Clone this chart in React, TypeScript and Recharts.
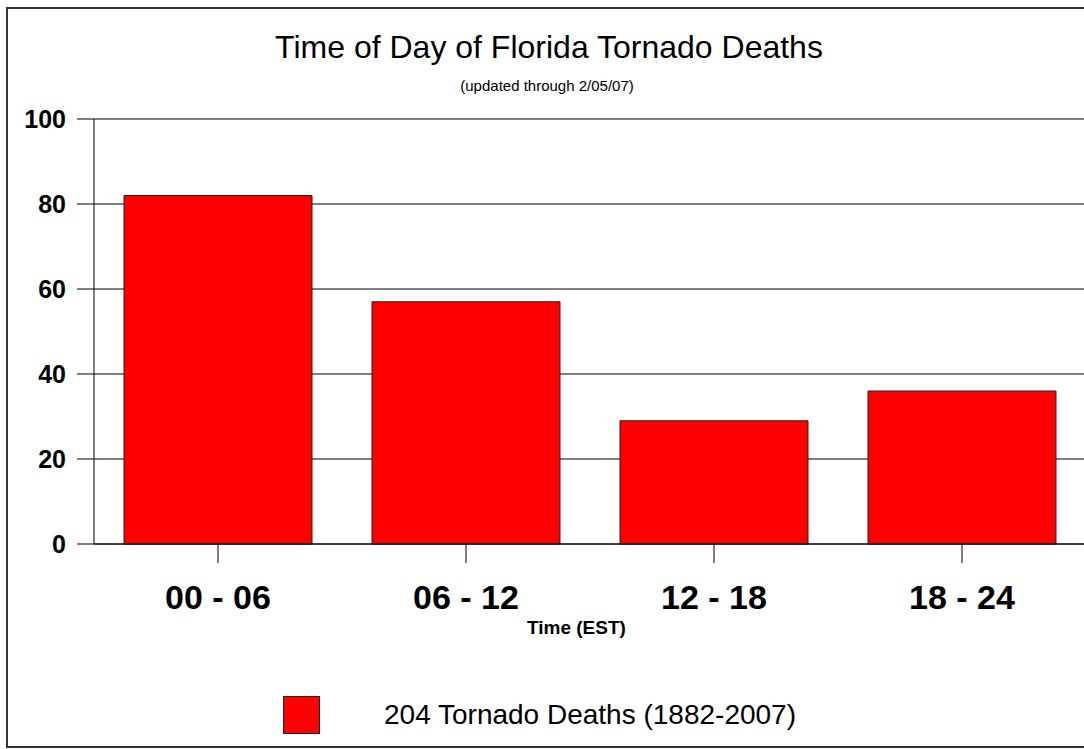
import { BarChart, Bar, XAxis, YAxis, CartesianGrid, Legend } from 'recharts';

const periods = ['00 - 06', '06 - 12', '12 - 18', '18 - 24'];
const deaths = [82, 57, 29, 36];
const yTicks = [0, 20, 40, 60, 80, 100];

const seriesName = '204 Tornado Deaths (1882-2007)';
const chartTitle = 'Time of Day of Florida Tornado Deaths';
const chartSubtitle = '(updated through 2/05/07)';
const xTitle = 'Time (EST)';

const data = periods.map((p, i) => ({ period: p, deaths: deaths[i] }));

const FONT = '"Liberation Sans", Arial, sans-serif';

const LegendBox = () => (
  <div style={{ display: 'flex', alignItems: 'center', fontFamily: FONT }}>
    <div style={{ width: 35, height: 36, background: '#ff0000', border: '1px solid #222' }} />
    <span style={{ marginLeft: 64, fontSize: 28, color: '#000', lineHeight: '38px' }}>{seriesName}</span>
  </div>
);

const App = () => {
  return (
    <div
      style={{
        position: 'fixed',
        left: 0,
        top: 0,
        width: 1084,
        height: 749,
        overflow: 'hidden',
        background: '#fff',
      }}
    >
      <div
        style={{
          position: 'absolute',
          left: 6,
          top: 7,
          width: 1200,
          height: 737,
          border: '2px solid #333',
        }}
      />
      <div style={{ position: 'absolute', left: 0, top: 0 }}>
        <BarChart
          width={1110}
          height={749}
          data={data}
          margin={{ top: 119, right: 24, bottom: 125, left: 0 }}
          barCategoryGap={30}
        >
          <CartesianGrid vertical={false} stroke="#000" strokeWidth={1} />
          <XAxis
            dataKey="period"
            height={80}
            axisLine={{ stroke: '#000' }}
            tickLine={{ stroke: '#000' }}
            tickSize={19}
            tickMargin={22}
            tick={{ fill: '#000', fontSize: 34, fontWeight: 'bold', fontFamily: FONT }}
          />
          <YAxis
            width={94}
            domain={[0, 100]}
            ticks={yTicks}
            axisLine={{ stroke: '#000' }}
            tickLine={{ stroke: '#000' }}
            tickSize={17}
            tickMargin={11}
            tick={{ fill: '#000', fontSize: 25, fontWeight: 'bold', fontFamily: FONT }}
          />
          <Legend
            layout="horizontal"
            verticalAlign="middle"
            align="center"
            content={() => <LegendBox />}
            wrapperStyle={{ position: 'absolute', left: 283, top: 696, width: 'auto' }}
          />
          <Bar
            dataKey="deaths"
            name={seriesName}
            fill="#ff0000"
            stroke="#222"
            strokeWidth={1}
            isAnimationActive={false}
          />
        </BarChart>
      </div>
      <svg
        width={1084}
        height={749}
        style={{ position: 'absolute', left: 0, top: 0, pointerEvents: 'none' }}
      >
        <text x={549} y={58} textAnchor="middle" fontSize={32} fontFamily={FONT} fill="#000">
          {chartTitle}
        </text>
        <text x={547} y={91} textAnchor="middle" fontSize={15} fontFamily={FONT} fill="#000">
          {chartSubtitle}
        </text>
        <text x={527} y={634} fontSize={19} fontWeight="bold" fontFamily={FONT} fill="#000">
          {xTitle}
        </text>
      </svg>
    </div>
  );
};

export default App;
